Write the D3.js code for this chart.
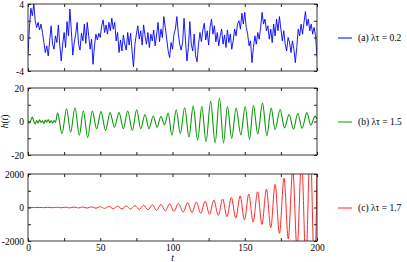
<!DOCTYPE html>
<html>
<head>
<meta charset="utf-8">
<script src="https://cdn.jsdelivr.net/npm/d3@7"></script>
<style>
body {margin:0; background:#fff;}
</style>
</head>
<body>
<svg id="chart" width="407" height="262" font-family="Liberation Serif, serif" font-size="9.5"></svg>
<script>
// (a) noisy signal, one reading per unit of t (t = 0..200)
var hA = [-2.0,1.2,3.5,2.6,4.0,2.0,1.2,1.8,0.9,1.6,
  0.6,-0.6,-1.8,-1.0,-2.2,-0.4,1.4,-0.8,-1.4,0.2,
  -0.6,1.5,-0.9,-2.8,-0.8,0.6,-1.2,1.9,0.2,3.4,
  0.8,-2.1,-0.6,0.4,1.8,-0.8,-1.5,0.5,-0.4,1.6,
  -0.7,1.8,0.2,-1.4,-0.2,-3.2,-1.0,0.4,-0.3,0.5,
  0.0,1.4,2.1,0.6,1.5,0.4,1.8,0.8,2.3,1.0,
  1.8,-0.4,0.6,-1.8,-0.3,-1.6,0.3,-0.8,-1.5,0.6,
  -0.9,0.5,-1.6,-3.5,-0.8,0.4,1.4,-0.2,0.8,-0.9,
  1.5,0.2,-0.8,0.6,-1.2,0.4,-0.4,0.9,-1.0,0.3,
  1.8,-0.5,1.0,0.0,2.5,1.2,-0.2,-1.6,-2.4,-0.6,
  -1.4,0.4,1.0,2.5,0.5,-0.8,-1.5,-0.6,2.3,-0.4,
  -2.8,-1.2,1.9,-0.8,-1.6,0.4,-2.2,-2.9,-0.8,0.6,
  -0.5,0.9,1.7,-0.3,0.8,-0.9,1.2,2.2,0.4,1.4,
  -0.5,0.6,-1.0,0.2,1.0,-0.8,0.3,-1.2,0.9,-0.6,
  0.4,-1.4,-0.4,1.0,0.2,1.6,2.0,1.0,2.9,1.6,
  3.0,1.2,0.4,-1.0,-0.4,-3.0,-1.2,0.2,-0.8,0.6,
  -0.2,1.2,3.0,1.6,2.2,0.8,1.4,-0.2,1.0,-0.6,
  1.6,0.2,2.2,0.8,2.5,1.0,-0.4,0.8,-0.8,-1.6,
  0.0,-0.6,-1.8,-0.4,-1.4,-3.0,-1.2,1.0,0.2,1.6,
  0.4,1.8,3.1,1.4,2.2,0.8,1.6,0.4,1.2,0.2,
  -2.3];
var tA = hA.map(function(d, i) { return i; });

// (b) small noise, then turning points of the oscillation
var tB = [0,1,2,3,4,5,6,7,8,9,10,11,12,13,14,15,16,17,18,19,
  20.5,23.5,26.7,29.5,32.5,35.5,38.3,41.3,44.5,47.5,
  50.5,53.7,56.8,59.8,63,66,69,72.2,75.2,78,
  81,83.7,86.7,89.3,92,94.5,97,99.6,102.6,105.4,
  108.4,111.4,114.3,117.4,120.3,123.2,126.4,129.5,132.5,135.3,
  138,141,144,147.3,150.3,153.3,156,159,162.3,165.3,
  168.3,171,174.5,177.5,180.7,183.7,186.7,189.7,193,195.7,
  198.7,200];
var hB = [0.5,-1.0,0.8,2.6,0.2,-1.5,0.6,-0.8,1.0,-0.6,0.4,-1.2,0.8,-0.4,1.2,-0.8,0.6,-1.0,0.5,-0.5,
  5.0,-7.3,7.6,-6.4,8.2,-8.2,6.3,-9.6,6.3,-4.3,
  5.9,-5.3,5.3,-3.4,5.3,-4.3,6.3,-5.3,7.0,-4.3,
  4.2,-4.3,3.3,-3.4,3.0,-2.0,5.0,-8.2,7.0,-7.3,
  8.2,-9.2,9.2,-11.1,9.0,-12.0,12.0,-12.8,14.0,-12.8,
  9.0,-10.0,8.0,-8.0,9.0,-10.5,9.5,-7.5,11.0,-8.5,
  8.0,-4.8,7.2,-3.8,4.2,-4.6,4.8,-4.0,5.3,-2.2,
  3.2,1.5];

// (c) turning points of the growing oscillation
var tC = [0,1.6,4.6,7.6,10.7,13.7,16.7,19.8,22.8,25.8,
  28.8,31.9,34.9,37.9,40.9,44,47,50,53,56,
  59,62,65,68,71,74,77,80,83,86,
  89,92,95,98,101,104,107.4,110.5,113.5,116.5,
  119.5,122.6,125.6,128.6,131.7,134.7,137.7,140.7,143.8,146.8,
  149.8,152.8,155.8,158.9,161.9,165,168,171,174,177.2,
  180.1,183.2,186.2,189.3,192.3,195.3,198.3,200];
var hC = [0,5,-6,8,-9,11,-12,15,-17,20,
  -22,26,-28,32,-35,40,-44,50,-55,62,
  -68,76,-83,92,-100,110,-120,132,-145,160,
  -172,186,-200,215,-230,250,-265,285,-305,330,
  -350,380,-405,440,-470,510,-545,590,-630,690,
  -740,800,-860,940,-1010,1100,-1200,1380,-1540,1740,
  -1880,2250,-2500,2900,-3200,3700,-4100,2200];

var legendNames = ["(a) \u03bb\u03c4 = 0.2", "(b) \u03bb\u03c4 = 1.5", "(c) \u03bb\u03c4 = 1.7"];
var xTicks = [0, 25, 50, 75, 100, 125, 150, 175, 200];
var xLabels = [0, 50, 100, 150, 200];
var yTicksA = [-4, -2, 0, 2, 4], yLabelsA = [-4, 0, 4];
var yTicksB = [-20, -10, 0, 10, 20], yLabelsB = [-20, 0, 20];
var yTicksC = [-2000, -1000, 0, 1000, 2000], yLabelsC = [-2000, 0, 2000];

var svg = d3.select("#chart");
var left = 28, right = 317, ph = 67;
var x = d3.scaleLinear().domain([0, 200]).range([left, right]);

var panels = [
  {top: 4,   t: tA, h: hA, ticks: yTicksA, labs: yLabelsA, color: "#0000ff", w: 0.9, curve: d3.curveLinear},
  {top: 88,  t: tB, h: hB, ticks: yTicksB, labs: yLabelsB, color: "#079907", w: 1.1, curve: d3.curveMonotoneX},
  {top: 174, t: tC, h: hC, ticks: yTicksC, labs: yLabelsC, color: "#ff2a2a", w: 1.0, curve: d3.curveMonotoneX}
];

function serif(sel) {
  sel.selectAll("text")
    .attr("font-family", "Liberation Serif, serif")
    .attr("font-size", 9.5);
}

panels.forEach(function(p, i) {
  var y = d3.scaleLinear()
    .domain([p.ticks[0], p.ticks[p.ticks.length - 1]])
    .range([p.top + ph, p.top]);
  var g = svg.append("g");

  g.append("clipPath").attr("id", "clip" + i)
    .append("rect")
    .attr("x", left).attr("y", p.top)
    .attr("width", right - left).attr("height", ph);

  var line = d3.line()
    .x(function(d) { return x(d[0]); })
    .y(function(d) { return y(d[1]); })
    .curve(p.curve);

  g.append("path")
    .datum(d3.zip(p.t, p.h))
    .attr("clip-path", "url(#clip" + i + ")")
    .attr("fill", "none")
    .attr("stroke", p.color)
    .attr("stroke-width", p.w)
    .attr("stroke-linejoin", "round")
    .attr("d", line);

  // inward ticks on all four sides
  g.append("g")
    .attr("transform", "translate(0," + (p.top + ph) + ")")
    .call(d3.axisBottom(x).tickValues(xTicks).tickSize(-3).tickPadding(3)
      .tickFormat(function(d) { return (i == 2 && xLabels.indexOf(d) >= 0) ? d : ""; }))
    .call(serif);
  g.append("g")
    .attr("transform", "translate(0," + p.top + ")")
    .call(d3.axisTop(x).tickValues(xTicks).tickSize(-3).tickFormat(""));
  g.append("g")
    .attr("transform", "translate(" + left + ",0)")
    .call(d3.axisLeft(y).tickValues(p.ticks).tickSize(-3).tickPadding(4)
      .tickFormat(function(d) { return p.labs.indexOf(d) >= 0 ? d : ""; }))
    .call(serif);
  g.append("g")
    .attr("transform", "translate(" + right + ",0)")
    .call(d3.axisRight(y).tickValues(p.ticks).tickSize(-3).tickFormat(""));

  g.selectAll(".domain").remove();
  g.selectAll(".tick line").attr("stroke", "#222");

  g.append("rect")
    .attr("x", left).attr("y", p.top)
    .attr("width", right - left).attr("height", ph)
    .attr("fill", "none").attr("stroke", "#222").attr("stroke-width", 0.9);

  // legend
  var cy = Math.round(p.top + ph / 2);
  g.append("line")
    .attr("x1", 338).attr("x2", 352).attr("y1", cy).attr("y2", cy)
    .attr("stroke", p.color).attr("stroke-width", 1);
  g.append("text")
    .attr("x", 358).attr("y", cy).attr("dy", "0.32em")
    .attr("font-family", "Liberation Serif, serif")
    .attr("font-size", 9.5)
    .text(legendNames[i]);
});

// axis titles
svg.append("text")
  .attr("x", x(100)).attr("y", 260.5)
  .attr("text-anchor", "middle")
  .attr("font-family", "Liberation Serif, serif")
  .attr("font-size", 9.5)
  .style("font-style", "italic")
  .text("t");

var hl = svg.append("text")
  .attr("transform", "translate(8," + (88 + ph / 2) + ") rotate(-90)")
  .attr("text-anchor", "middle")
  .attr("font-family", "Liberation Serif, serif")
  .attr("font-size", 9.5);
hl.append("tspan").style("font-style", "italic").text("h");
hl.append("tspan").text("(");
hl.append("tspan").style("font-style", "italic").text("t");
hl.append("tspan").text(")");
</script>
</body>
</html>
